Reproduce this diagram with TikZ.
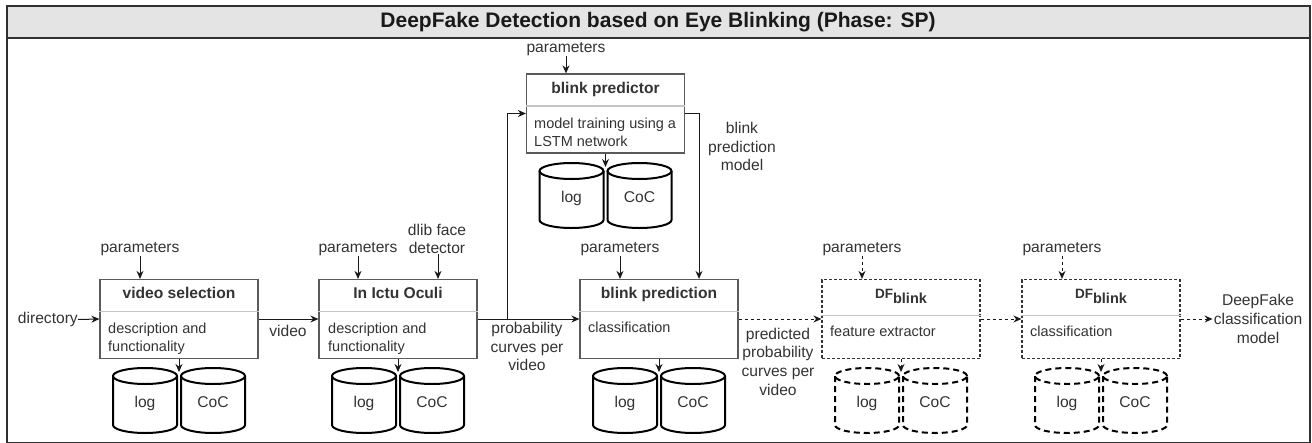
\documentclass[tikz,border=0pt]{standalone}
\usepackage{fontspec}
\setmainfont{Liberation Sans}
\usetikzlibrary{arrows.meta,calc}
\definecolor{txt}{HTML}{333333}
\definecolor{boxc}{HTML}{5A5A5A}
\definecolor{divc}{HTML}{C4C4C4}
\definecolor{barc}{HTML}{E4E4E4}
\definecolor{framec}{HTML}{303030}
\newcommand\dbpair[4]{%
  \draw[#1] (#2-66,#3+8) -- (#2-66,#3+57) arc(180:360:32pt and 8pt) -- (#2-2,#3+8);
  \draw[#1] (#2-34,#3+8) ellipse (32pt and 8pt);
  \draw[#1] (#2+2,#3+8) -- (#2+2,#3+57) arc(180:360:32pt and 8pt) -- (#2+66,#3+8);
  \draw[#1] (#2+34,#3+8) ellipse (32pt and 8pt);
  \node[cyltxt] (#4log) at (#2-34,#3+39) {log};
  \node[cyltxt] (#4coc) at (#2+34,#3+39) {CoC};
  \coordinate (#4in) at (#2,#3+4);
}
\newcommand\dftitle{{\fontsize{13.5}{15}\selectfont DF}\raisebox{-4.5pt}{\fontsize{14.5}{15}\selectfont blink}}
\begin{document}
\begin{tikzpicture}[x=1pt,y=-1pt,
  box/.style={draw=boxc, line width=1.2pt, minimum width=158pt, minimum height=79pt, inner sep=0pt},
  dbox/.style={box, draw=black!80, dash pattern=on 3pt off 2pt},
  div/.style={draw=divc, line width=1.2pt},
  hd/.style={font=\fontsize{15.6}{18}\selectfont\bfseries, text=txt, anchor=base, inner sep=0pt},
  desc/.style={font=\fontsize{14.5}{18}\selectfont, text=txt, align=left, anchor=base west, inner sep=0pt},
  lbl/.style={font=\fontsize{15.6}{18.7}\selectfont, text=txt, align=center, inner sep=0pt},
  cyltxt/.style={font=\fontsize{15.6}{18}\selectfont, text=txt, anchor=base, inner sep=0pt},
  cyl/.style={draw=black, line width=2pt},
  dcyl/.style={cyl, dash pattern=on 6pt off 4pt},
  arr/.style={draw=black!90, line width=1pt, -{Stealth[length=8pt,width=7pt]}},
  darr/.style={arr, dash pattern=on 3pt off 3pt},
]
\useasboundingbox (0,0) rectangle (1312,442);
% frame and title bar
\fill[barc] (7,6) rectangle (1310,38);
\draw[framec, line width=2pt] (7,6) rectangle (1310,442.5);
\draw[framec, line width=2pt] (7,38) -- (1310,38);
\node[font=\fontsize{21}{24}\selectfont\bfseries, text=black!90] (title) at (658,22) {DeepFake Detection based on Eye Blinking (Phase: SP)};

% boxes
\node[box] (vs) at (179,319) {};
\node[box] (io) at (398,319) {};
\node[box] (bp) at (605.5,113.5) {};
\node[box] (bpn) at (659,319) {};
\node[dbox] (df1) at (901,319) {};
\node[dbox] (df2) at (1101,319) {};

\foreach \b in {vs,io,bp,bpn}{
  \draw[div] ([yshift=-32.5pt]\b.north west) -- ([yshift=-32.5pt]\b.north east);
}
\foreach \b in {df1,df2}{
  \draw[div] ([yshift=-36.5pt]\b.north west) -- ([yshift=-36.5pt]\b.north east);
}

% box headers
\node[hd] (vsh) at (179,298.5) {video selection};
\node[hd] (ioh) at (398,298.5) {In Ictu Oculi};
\node[hd] (bph) at (605.5,93) {blink predictor};
\node[hd] (bpnh) at (659,298.5) {blink prediction};
\node[hd] (df1h) at (901,298.5) {\dftitle};
\node[hd] (df2h) at (1101,298.5) {\dftitle};

% descriptions (base = last line)
\node[desc] (vsd) at (108,351.5) {description and\\functionality};
\node[desc] (iod) at (328,351.5) {description and\\functionality};
\node[desc] (bpd) at (534,146) {model training using a\\LSTM network};
\node[desc] (bpnd) at (588,332.5) {classification};
\node[desc] (df1d) at (830,336.5) {feature extractor};
\node[desc] (df2d) at (1030,336.5) {classification};

% parameter labels
\node[lbl] (p1) at (140,249) {parameters};
\node[lbl] (p2) at (358,249) {parameters};
\node[lbl] (dlib) at (437,239) {dlib face\\detector};
\node[lbl] (p3) at (566,49.5) {parameters};
\node[lbl] (p4) at (620,249) {parameters};
\node[lbl] (p5) at (862,249) {parameters};
\node[lbl] (p6) at (1062,249) {parameters};

\draw[arr] (p1.south) -- (p1.south |- vs.north);
\draw[arr] (p2.south) -- (p2.south |- io.north);
\draw[arr] ([xshift=1pt]dlib.south) -- ([xshift=1pt]dlib.south |- io.north);
\draw[arr] (p3.south) -- (p3.south |- bp.north);
\draw[arr] (p4.south) -- (p4.south |- bpn.north);
\draw[darr] (p5.south) -- (p5.south |- df1.north);
\draw[darr] (p6.south) -- (p6.south |- df2.north);

% flow labels
\node[lbl, anchor=east] (dir) at (78,319.5) {directory};
\node[lbl] (lvideo) at (288,331) {video};
\node[lbl] (lprob) at (527,346.5) {probability\\curves per\\video};
\node[lbl] (lbpm) at (742,146.5) {blink\\prediction\\model};
\node[lbl] (lpred) at (778,361.5) {predicted\\probability\\curves per\\video};
\node[lbl] (out) at (1258,319) {DeepFake\\classification\\model};

% flow connectors
\draw[arr] (dir.east) -- (vs.west);
\draw[arr] (vs.east) -- (io.west);
\draw[arr] (io.east) -- (bpn.west);
\coordinate (br) at (507,319);
\draw[arr] (br) |- (bp.west);
\draw[arr] (bp.east) -| ([xshift=40pt]bpn.north);
\draw[darr] (bpn.east) -- (df1.west);
\draw[darr] (df1.east) -- (df2.west);
\draw[darr] (df2.east) -- ([xshift=-1pt]out.west |- df2.east);

% storage cylinders
\dbpair{cyl}{179}{368}{vs}
\dbpair{cyl}{398}{368}{io}
\dbpair{cyl}{605.5}{163}{bp}
\dbpair{cyl}{659}{368}{bpn}
\dbpair{dcyl}{901}{368}{dfa}
\dbpair{dcyl}{1101}{368}{dfb}

\draw[arr] (vs.south) -- (vsin);
\draw[arr] (io.south) -- (ioin);
\draw[arr] (bp.south) -- (bpin);
\draw[arr] (bpn.south) -- (bpnin);
\draw[darr] (df1.south) -- (dfain);
\draw[darr] (df2.south) -- (dfbin);
\end{tikzpicture}
\end{document}
